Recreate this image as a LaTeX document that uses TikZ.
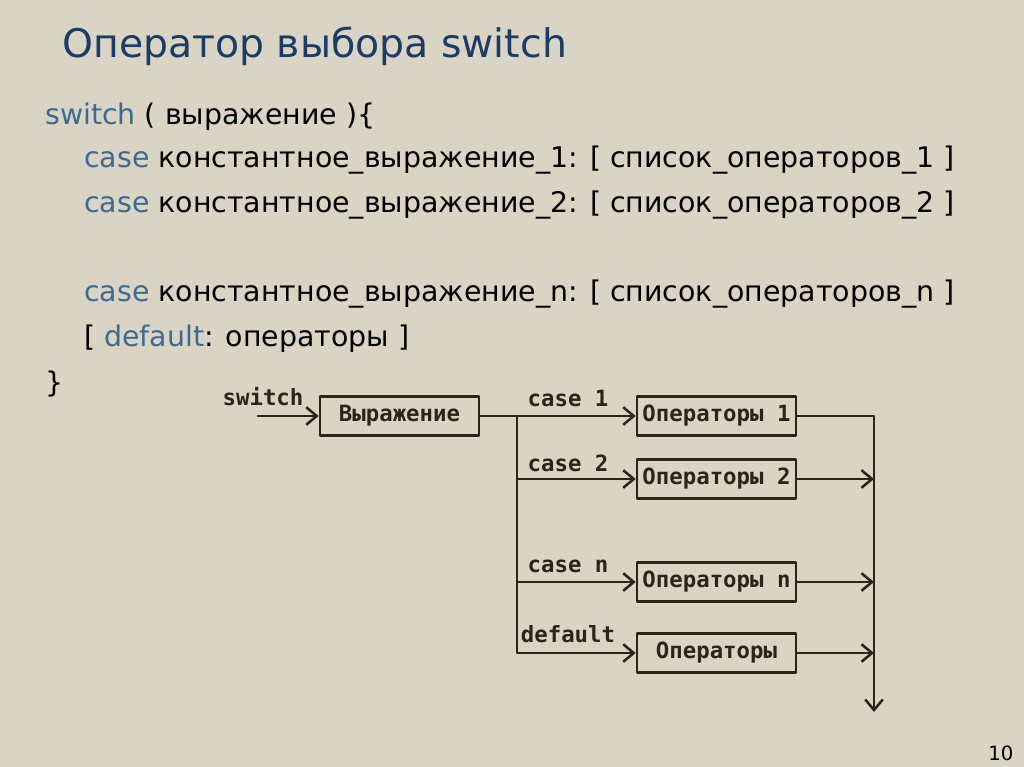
\documentclass[tikz,border=0pt]{standalone}
\usepackage{fontspec}
\setmainfont{DejaVu Sans}
\setmonofont{DejaVu Sans Mono}
\usetikzlibrary{arrows.meta,positioning}
\definecolor{paper}{HTML}{D9D4C4}
\definecolor{navy}{HTML}{1A3C66}
\definecolor{kw}{HTML}{3C6A94}
\definecolor{ink}{HTML}{2A2519}
\newcommand{\kw}[1]{\textcolor{kw}{#1}}
\tikzset{
  every picture/.style={line join=round, line cap=round},
  code/.style={anchor=base west, inner sep=0pt, font=\fontsize{20.2}{24}\selectfont},
  opbox/.style={draw=ink, line width=1.8pt, minimum width=3.975cm, minimum height=0.975cm,
    inner sep=0pt, text=ink, font=\ttfamily\bfseries\fontsize{15.9}{18}\selectfont},
  tag/.style={inner sep=0pt, text=ink, font=\ttfamily\bfseries\fontsize{15.9}{18}\selectfont},
  flow/.style={draw=ink, line width=1.8pt, -{Straight Barb[length=7.5pt,width=12.5pt]}},
}
\begin{document}
\begin{tikzpicture}[x=0.025cm, y=-0.025cm]
    % Slide background
    \fill[paper] (0,0) rectangle (1024,767);
    \useasboundingbox (0,0) rectangle (1024,767);
    % Title
    \node[code, font=\fontsize{28}{33}\selectfont, text=navy] (title) at (62,58) {Оператор выбора switch};
    % Syntax
    \node[code] (l1) at (45,125) {\kw{switch} ( выражение )\{};
    \node[code] (l2) at (84,168) {\kw{case} константное\_выражение\_1: [ список\_операторов\_1 ]};
    \node[code] (l3) at (84,213) {\kw{case} константное\_выражение\_2: [ список\_операторов\_2 ]};
    \node[code] (l4) at (84,301) {\kw{case} константное\_выражение\_n: [ список\_операторов\_n ]};
    \node[code] (l5) at (84,346) {[ \kw{default}: операторы ]};
    \node[code] (l6) at (45,392) {\}};
    % Flow chart
    \node[opbox] (expr) at (399.5,416) {Выражение};
    \node[opbox] (op1) at (716.5,416) {Операторы 1};
    \node[opbox] (op2) at (716.5,479) {Операторы 2};
    \node[opbox] (opn) at (716.5,582) {Операторы n};
    \node[opbox] (opd) at (716.5,653) {Операторы};
    \node[tag] (sw) at (263,397) {switch};
    \node[tag] (c1) at (568,399) {case 1};
    \node[tag] (c2) at (568,463) {case 2};
    \node[tag] (cn) at (568,566) {case n};
    \node[tag] (cd) at (568,634) {default};
    \coordinate (in) at (258,416);
    \coordinate (fork) at (517,416);
    \coordinate (join) at (874,416);
    \coordinate (out) at (874,712);
    \draw[flow] (in) -- (expr);
    \draw[flow] (expr) -- (op1);
    \draw[flow] (fork) |- (opd);
    \draw[flow] (fork |- op2) -- (op2);
    \draw[flow] (fork |- opn) -- (opn);
    \draw[flow] (op1) -- (join) -- (out);
    \draw[flow] (op2) -- (join |- op2);
    \draw[flow] (opn) -- (join |- opn);
    \draw[flow] (opd) -- (join |- opd);
    % Page number
    \node[code, font=\fontsize{14}{16}\selectfont] (page) at (988,760) {10};
\end{tikzpicture}
\end{document}
